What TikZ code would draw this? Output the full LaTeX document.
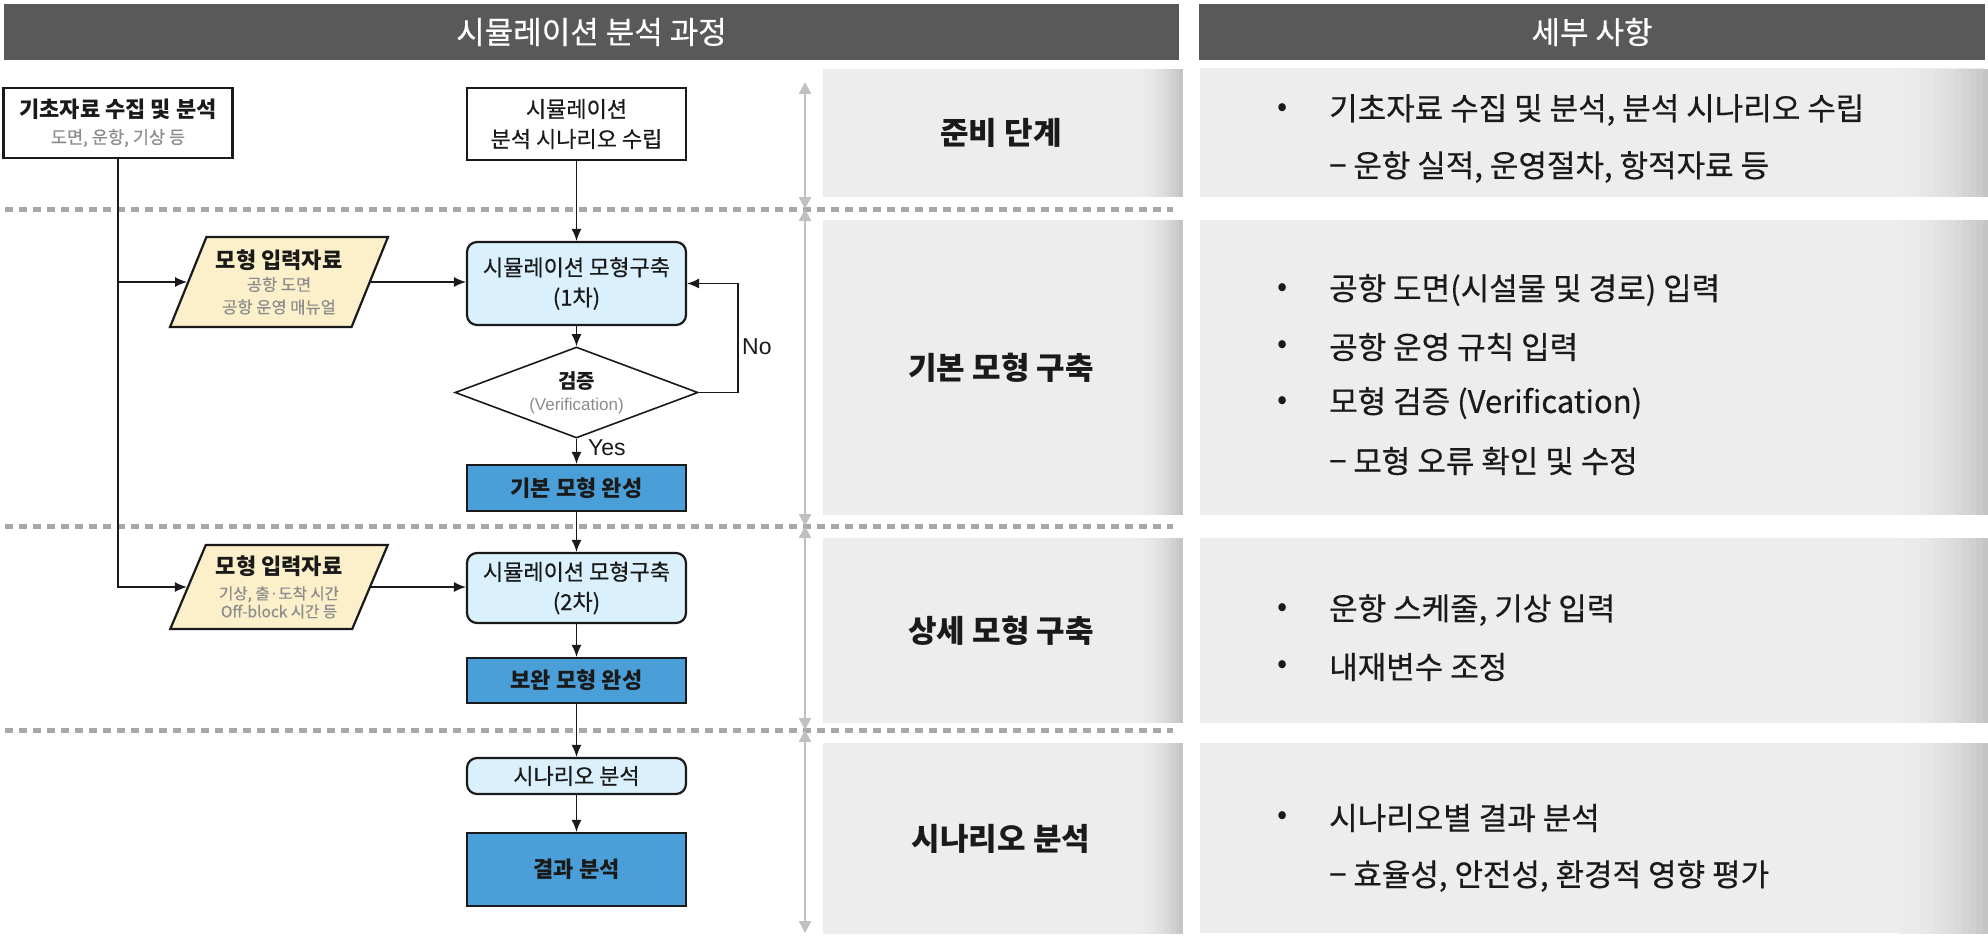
\documentclass[tikz,border=0pt]{standalone}
\usepackage{fontspec}
\setmainfont{Noto Sans CJK KR}
\newfontfamily\krmed[FakeBold=0.5]{Noto Sans CJK KR}
\newfontfamily\lat{Liberation Sans}
\usetikzlibrary{arrows.meta,shapes.geometric}
\definecolor{hdr}{HTML}{595959}
\definecolor{panel}{HTML}{EDEDED}
\definecolor{paneledge}{HTML}{C2C2C2}
\definecolor{ltblue}{HTML}{DAF0FC}
\definecolor{midblue}{HTML}{4A9FD8}
\definecolor{cream}{HTML}{FCF0CA}
\definecolor{subgray}{HTML}{8C8C8C}
\definecolor{sepgray}{HTML}{A8A8A8}
\definecolor{arrgray}{HTML}{C0C0C0}
\definecolor{ink}{HTML}{1A1A1A}
\newcommand{\fsz}[2]{\fontsize{#1}{#2}\selectfont}
\begin{document}
\begin{tikzpicture}[x=1pt,y=-1pt,
  hdrbox/.style={fill=hdr, draw=none, text=white, inner sep=0pt, font=\krmed\fsz{31}{36}},
  panelbox/.style={fill=panel, draw=none, inner sep=0pt, minimum height=#1},
  stagebox/.style={panelbox=#1, minimum width=356pt},
  stagetext/.style={inner sep=0pt, font=\bfseries\fsz{31}{36}, text=ink},
  detailbox/.style={panelbox=#1, minimum width=785pt},
  bullet/.style={inner sep=0pt, font=\fsz{30}{34}, text=ink},
  dtext/.style={inner sep=0pt, anchor=west, font=\krmed\fsz{31}{36}, text=ink},
  plainbox/.style={draw=ink, line width=2.2pt, fill=white, inner sep=0pt, align=center, minimum width=219pt, text=ink},
  roundbox/.style={plainbox, fill=ltblue, rounded corners=10pt},
  bluebox/.style={plainbox, fill=midblue},
  inbox/.style={trapezium, trapezium left angle=64, trapezium right angle=116, trapezium stretches=true,
      draw=ink, line width=2.2pt, fill=cream, inner sep=0pt, align=center, minimum width=218pt, text=ink},
  decision/.style={diamond, aspect=2.67, draw=ink, line width=1.6pt, fill=white, inner sep=0pt, align=center,
      minimum width=243pt, minimum height=91pt, text=ink},
  conn/.style={draw=ink, line width=1.3pt},
  arrow/.style={conn, -{Latex[length=12pt,width=10pt]}},
  sepline/.style={draw=sepgray, line width=5pt, dash pattern=on 8pt off 6pt},
  stagearrow/.style={draw=arrgray, line width=2.5pt, {Triangle[length=12pt,width=12pt]}-{Triangle[length=12pt,width=12pt]}},
  lbl/.style={inner sep=0pt, font=\lat\fsz{23}{26}, text=ink}
]
\useasboundingbox (0,0) rectangle (1988,937);
\fill[white] (0,0) rectangle (1988,937);

% headers
\node[hdrbox, minimum width=1175pt, minimum height=56pt] (h1) at (591.5,32) {시뮬레이션 분석 과정};
\node[hdrbox, minimum width=786pt, minimum height=56pt] (h2) at (1592,32) {세부 사항};

% stage panels
\node[stagebox=128pt] (st1) at (1001,133) {};
\node[stagebox=295pt] (st2) at (1001,367.5) {};
\node[stagebox=185pt] (st3) at (1001,630.5) {};
\node[stagebox=191pt] (st4) at (1001,838.5) {};

% detail panels
\node[detailbox=129pt] (dt1) at (1592.5,132.5) {};
\node[detailbox=295pt] (dt2) at (1592.5,367.5) {};
\node[detailbox=185pt] (dt3) at (1592.5,630.5) {};
\node[detailbox=190pt] (dt4) at (1592.5,838) {};

% darkening toward the right edge of every panel (thin strips)
\foreach \ya/\yb in {69/197, 220/515, 538/723, 743/934}{
  \foreach \f/\pp in {0/2, 1/5, 2/8, 3/12, 4/17, 5/23, 6/30, 7/38, 8/47, 9/57, 10/68, 11/80, 12/92}{
    \fill[paneledge!\pp!panel] ({1137+\f*3.5},\ya) rectangle ({1137+(\f+1.2)*3.5},\yb);
    \fill[paneledge!\pp!panel] ({1899+\f*7},\ya) rectangle ({1899+(\f+1.2)*7},\yb);
  }
}

\node[stagetext] (sl1) at (st1) {준비 단계};
\node[stagetext] (sl2) at (st2) {기본 모형 구축};
\node[stagetext] (sl3) at (st3) {상세 모형 구축};
\node[stagetext] (sl4) at (st4) {시나리오 분석};

\node[bullet] (bu1) at (1283,110) {•};
\node[dtext] (tx1) at (1329,110) {기초자료 수집 및 분석, 분석 시나리오 수립};
\node[dtext] (tx2) at (1329,167) {− 운항 실적, 운영절차, 항적자료 등};
\node[bullet] (bu2) at (1283,290) {•};
\node[dtext] (tx3) at (1329,290) {공항 도면(시설물 및 경로) 입력};
\node[bullet] (bu3) at (1283,347) {•};
\node[dtext] (tx4) at (1329,347) {공항 운영 규칙 입력};
\node[bullet] (bu4) at (1283,403) {•};
\node[dtext] (tx5) at (1329,403) {모형 검증 (Verification)};
\node[dtext] (tx6) at (1329,461) {− 모형 오류 확인 및 수정};
\node[bullet] (bu5) at (1283,610) {•};
\node[dtext] (tx7) at (1329,610) {운항 스케줄, 기상 입력};
\node[bullet] (bu6) at (1283,667) {•};
\node[dtext] (tx8) at (1329,667) {내재변수 조정};
\node[bullet] (bu7) at (1283,818) {•};
\node[dtext] (tx9) at (1329,818) {시나리오별 결과 분석};
\node[dtext] (tx10) at (1329,876) {− 효율성, 안전성, 환경적 영향 평가};

% separators
\draw[sepline] (5,209) -- (1173,209);
\draw[sepline] (5,526) -- (1173,526);
\draw[sepline] (5,730) -- (1173,730);

% stage span arrows
\coordinate (g0) at (805,82);
\coordinate (g1) at (805,209);
\coordinate (g2) at (805,526);
\coordinate (g3) at (805,730);
\coordinate (g4) at (805,933);
\draw[stagearrow] (g0) -- (g1);
\draw[stagearrow] (g1) -- (g2);
\draw[stagearrow] (g2) -- (g3);
\draw[stagearrow] (g3) -- (g4);

% flowchart nodes
\node[plainbox, minimum width=229pt, minimum height=70pt, font=\fsz{17}{26}] (b1) at (118,123)
  {{\bfseries\fsz{22}{26}기초자료 수집 및 분석}\\{\color{subgray}\krmed\fsz{17.5}{26}도면, 운항, 기상 등}};
\node[plainbox, minimum height=72pt, font=\krmed\fsz{22}{30}] (b2) at (576.5,124)
  {시뮬레이션\\분석 시나리오 수립};
\node[inbox, minimum height=90pt, font=\fsz{16}{22.5}] (p1) at (279,282)
  {{\bfseries\fsz{22}{22.5}모형 입력자료}\\{\color{subgray}\krmed\fsz{16.5}{22.5}공항 도면}\\{\color{subgray}\krmed\fsz{16.5}{22.5}공항 운영 매뉴얼}};
\node[roundbox, minimum height=83pt, font=\krmed\fsz{22}{30}] (m1) at (576.5,283.5)
  {시뮬레이션 모형구축\\(1차)};
\node[decision, font=\fsz{16}{22}] (d) at (576.5,392.5)
  {{\bfseries\fsz{20}{22}검증}\\{\color{subgray}\lat\fsz{17}{22}(Verification)}};
\node[bluebox, minimum height=46pt, font=\bfseries\fsz{22}{26}] (k1) at (576.5,488) {기본 모형 완성};
\node[inbox, minimum height=84pt, font=\fsz{15.5}{18}] (p2) at (279,587)
  {{\bfseries\fsz{22}{18}모형 입력자료}\\[7pt]{\color{subgray}\krmed\fsz{15.5}{18}기상, 출·도착 시간}\\{\color{subgray}\krmed\fsz{15.5}{18}Off-block 시간 등}};
\node[roundbox, minimum height=70pt, font=\krmed\fsz{22}{30}] (m2) at (576.5,588)
  {시뮬레이션 모형구축\\(2차)};
\node[bluebox, minimum height=45pt, font=\bfseries\fsz{22}{26}] (k2) at (576.5,680.5) {보완 모형 완성};
\node[roundbox, minimum height=36pt, font=\krmed\fsz{22}{26}] (s) at (576.5,776) {시나리오 분석};
\node[bluebox, minimum height=73pt, font=\bfseries\fsz{22}{26}] (r) at (576.5,869.5) {결과 분석};

% connectors
\coordinate (nox) at (738,392.5);
\draw[arrow] (b1.south) |- (p2.left side);
\draw[arrow] (b1.south |- p1.left side) -- (p1.left side);
\draw[arrow] (p1.right side) -- (p1.right side -| m1.west);
\draw[arrow] (p2.right side) -- (p2.right side -| m2.west);
\draw[arrow] (b2.south) -- (m1.north);
\draw[arrow] (m1.south) -- (d.north);
\draw[arrow] (d.east) -- (nox) |- (m1.east);
\draw[arrow] (d.south) -- (k1.north);
\draw[arrow] (k1.south) -- (m2.north);
\draw[arrow] (m2.south) -- (k2.north);
\draw[arrow] (k2.south) -- (s.north);
\draw[arrow] (s.south) -- (r.north);
\node[lbl, anchor=west] (lno) at (742,347) {No};
\node[lbl, anchor=west] (lyes) at (588,448) {Yes};
\end{tikzpicture}
\end{document}
